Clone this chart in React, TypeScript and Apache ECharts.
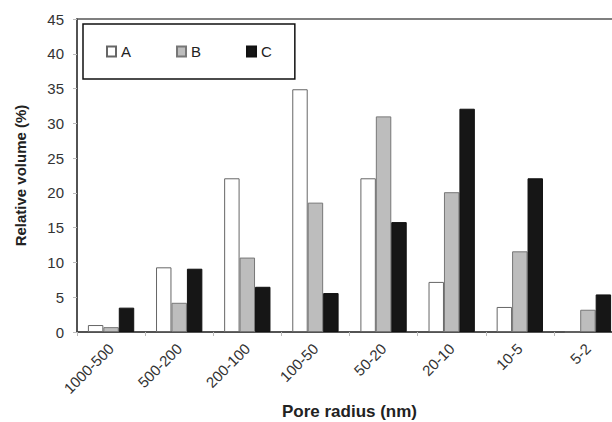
import React, { useEffect, useRef } from "react";
import * as echarts from "echarts";

const categories = ["1000-500", "500-200", "200-100", "100-50", "50-20", "20-10", "10-5", "5-2"];
const seriesA = [1.0, 9.3, 22.1, 34.9, 22.1, 7.2, 3.6, 0];
const seriesB = [0.7, 4.2, 10.7, 18.6, 31.0, 20.1, 11.6, 3.2];
const seriesC = [3.5, 9.1, 6.5, 5.6, 15.8, 32.1, 22.1, 5.4];
const yTicks = { min: 0, max: 45, interval: 5 };

const FONT = "'Liberation Sans', Arial, sans-serif";

export default function App() {
  const ref = useRef<HTMLDivElement>(null);

  useEffect(() => {
    if (!ref.current) return;
    const chart = echarts.init(ref.current, undefined, { renderer: "svg" });
    const barStyle = (fill: string, border: string) => ({
      color: fill,
      borderColor: border,
      borderWidth: 1,
    });
    chart.setOption({
      animation: false,
      backgroundColor: "#ffffff",
      textStyle: { fontFamily: FONT },
      grid: {
        left: 77,
        top: 19,
        right: 10,
        bottom: 90,
        outerBoundsMode: "none",
        containLabel: false,
        show: true,
        borderColor: "#555",
        borderWidth: 1.5,
      },
      legend: {
        left: 83,
        top: 24,
        orient: "horizontal",
        itemWidth: 9,
        itemHeight: 10,
        itemGap: 45,
        padding: [20, 23, 20, 23],
        borderColor: "#111",
        borderWidth: 1.5,
        textStyle: { fontSize: 15, color: "#222", fontFamily: FONT },
        data: [
          { name: "A", icon: "rect" },
          { name: "B", icon: "rect" },
          { name: "C", icon: "rect" },
        ],
      },
      xAxis: {
        type: "category",
        data: categories,
        name: "Pore radius (nm)",
        nameLocation: "middle",
        nameGap: 71,
        nameTextStyle: { fontSize: 17, fontWeight: "bold", color: "#222", fontFamily: FONT },
        axisLine: { show: true, lineStyle: { color: "#444", width: 1.5 } },
        axisTick: { show: true, length: 4, lineStyle: { color: "#bbb" } },
        axisLabel: {
          rotate: 45,
          fontSize: 15,
          color: "#333",
          margin: 14,
          interval: 0,
          fontFamily: FONT,
        },
      },
      yAxis: {
        type: "value",
        min: yTicks.min,
        max: yTicks.max,
        interval: yTicks.interval,
        name: "Relative volume (%)",
        nameLocation: "middle",
        nameGap: 49,
        nameTextStyle: { fontSize: 15, fontWeight: "bold", color: "#222", fontFamily: FONT },
        axisLine: { show: true, lineStyle: { color: "#444", width: 1.5 } },
        axisTick: { show: true, length: 4, lineStyle: { color: "#bbb" } },
        splitLine: { show: false },
        axisLabel: { fontSize: 15, color: "#333", margin: 13, fontFamily: FONT },
      },
      series: [
        {
          name: "A",
          type: "bar",
          data: seriesA,
          barGap: "0%",
          barCategoryGap: "32%",
          itemStyle: barStyle("#ffffff", "#666"),
        },
        {
          name: "B",
          type: "bar",
          data: seriesB,
          barGap: "0%",
          barCategoryGap: "32%",
          itemStyle: barStyle("#bdbdbd", "#777"),
        },
        {
          name: "C",
          type: "bar",
          data: seriesC,
          barGap: "0%",
          barCategoryGap: "32%",
          itemStyle: barStyle("#161616", "#111"),
        },
      ],
    });
    return () => chart.dispose();
  }, []);

  // The plot runs a little past the right edge of the page, so the
  // container is wider than the window and the overflow is cut off.
  return (
    <div style={{ position: "fixed", left: 0, top: 0, width: 612, height: 422, overflow: "hidden", background: "#fff" }}>
      <div ref={ref} style={{ width: 632, height: 422 }} />
    </div>
  );
}
